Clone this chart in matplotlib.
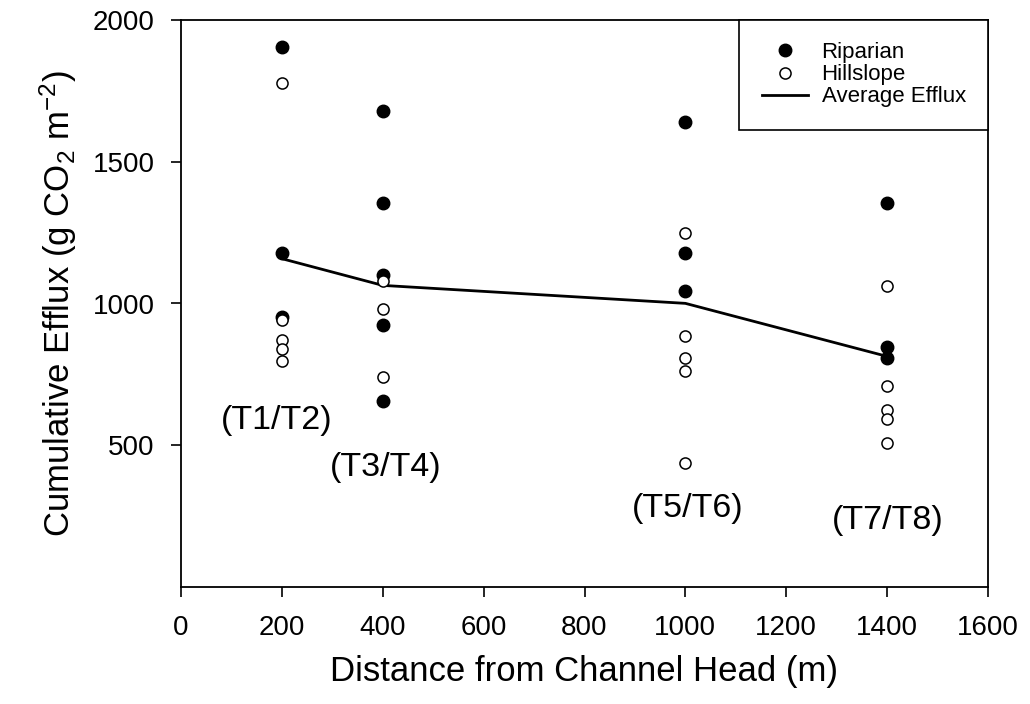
import matplotlib.pyplot as plt

plt.rcParams['font.family'] = ['Liberation Sans', 'DejaVu Sans']
plt.rcParams['mathtext.fontset'] = 'custom'
plt.rcParams['mathtext.rm'] = 'Liberation Sans'
plt.rcParams['mathtext.default'] = 'regular'

# Cumulative CO2 efflux per transect pair (g CO2 m-2)
distance = [200, 400, 1000, 1400]
riparian = [
    [1904, 1179, 953],
    [1678, 1355, 1099, 923, 656],
    [1639, 1179, 1044],
    [1353, 847, 809],
]
hillslope = [
    [1777, 943, 873, 838, 798],
    [1080, 979, 741],
    [1250, 885, 806, 763, 438],
    [1061, 710, 626, 592, 509],
]
transect_labels = ['(T1/T2)', '(T3/T4)', '(T5/T6)', '(T7/T8)']
label_pos = [(189, 589), (405, 423), (1005, 278), (1401, 236)]

average = [sum(r + h) / len(r + h) for r, h in zip(riparian, hillslope)]

fig = plt.figure(figsize=(10.30, 7.04), dpi=100)
ax = fig.add_axes([181 / 1030, 1 - 587 / 704, 807 / 1030, 567 / 704])

for i, d in enumerate(distance):
    ax.plot([d] * len(riparian[i]), riparian[i], 'o', color='black',
            markersize=9, zorder=3, label='Riparian' if i == 0 else None)
    ax.plot([d] * len(hillslope[i]), hillslope[i], 'o', markerfacecolor='white',
            markeredgecolor='black', markeredgewidth=1.1, markersize=8, zorder=4,
            label='Hillslope' if i == 0 else None)

ax.plot(distance, average, color='black', linewidth=2, zorder=2, label='Average Efflux')

for txt, (x, y) in zip(transect_labels, label_pos):
    ax.text(x, y, txt, ha='center', va='center', fontsize=24.5)

ax.set_xlim(0, 1600)
ax.set_ylim(0, 2000)
ax.set_xticks(range(0, 1601, 200))
ax.set_yticks([500, 1000, 1500, 2000])
ax.tick_params(direction='out', length=7, width=1.2, labelsize=20)
ax.tick_params(axis='y', pad=12)
ax.tick_params(axis='x', pad=13)
for s in ax.spines.values():
    s.set_linewidth(1.3)

ax.set_xlabel('Distance from Channel Head (m)', fontsize=25, labelpad=10)
ax.set_ylabel('Cumulative Efflux (g CO$_2$ m$^{-2}$)', fontsize=25, labelpad=10)

leg = ax.legend(loc='upper right', borderaxespad=0, fontsize=16, fancybox=False,
                edgecolor='black', framealpha=1, handlelength=2.1, borderpad=1.0,
                labelspacing=0.05, handletextpad=0.6)
leg.get_frame().set_linewidth(1.2)

fig.savefig('out.png', dpi=100)
